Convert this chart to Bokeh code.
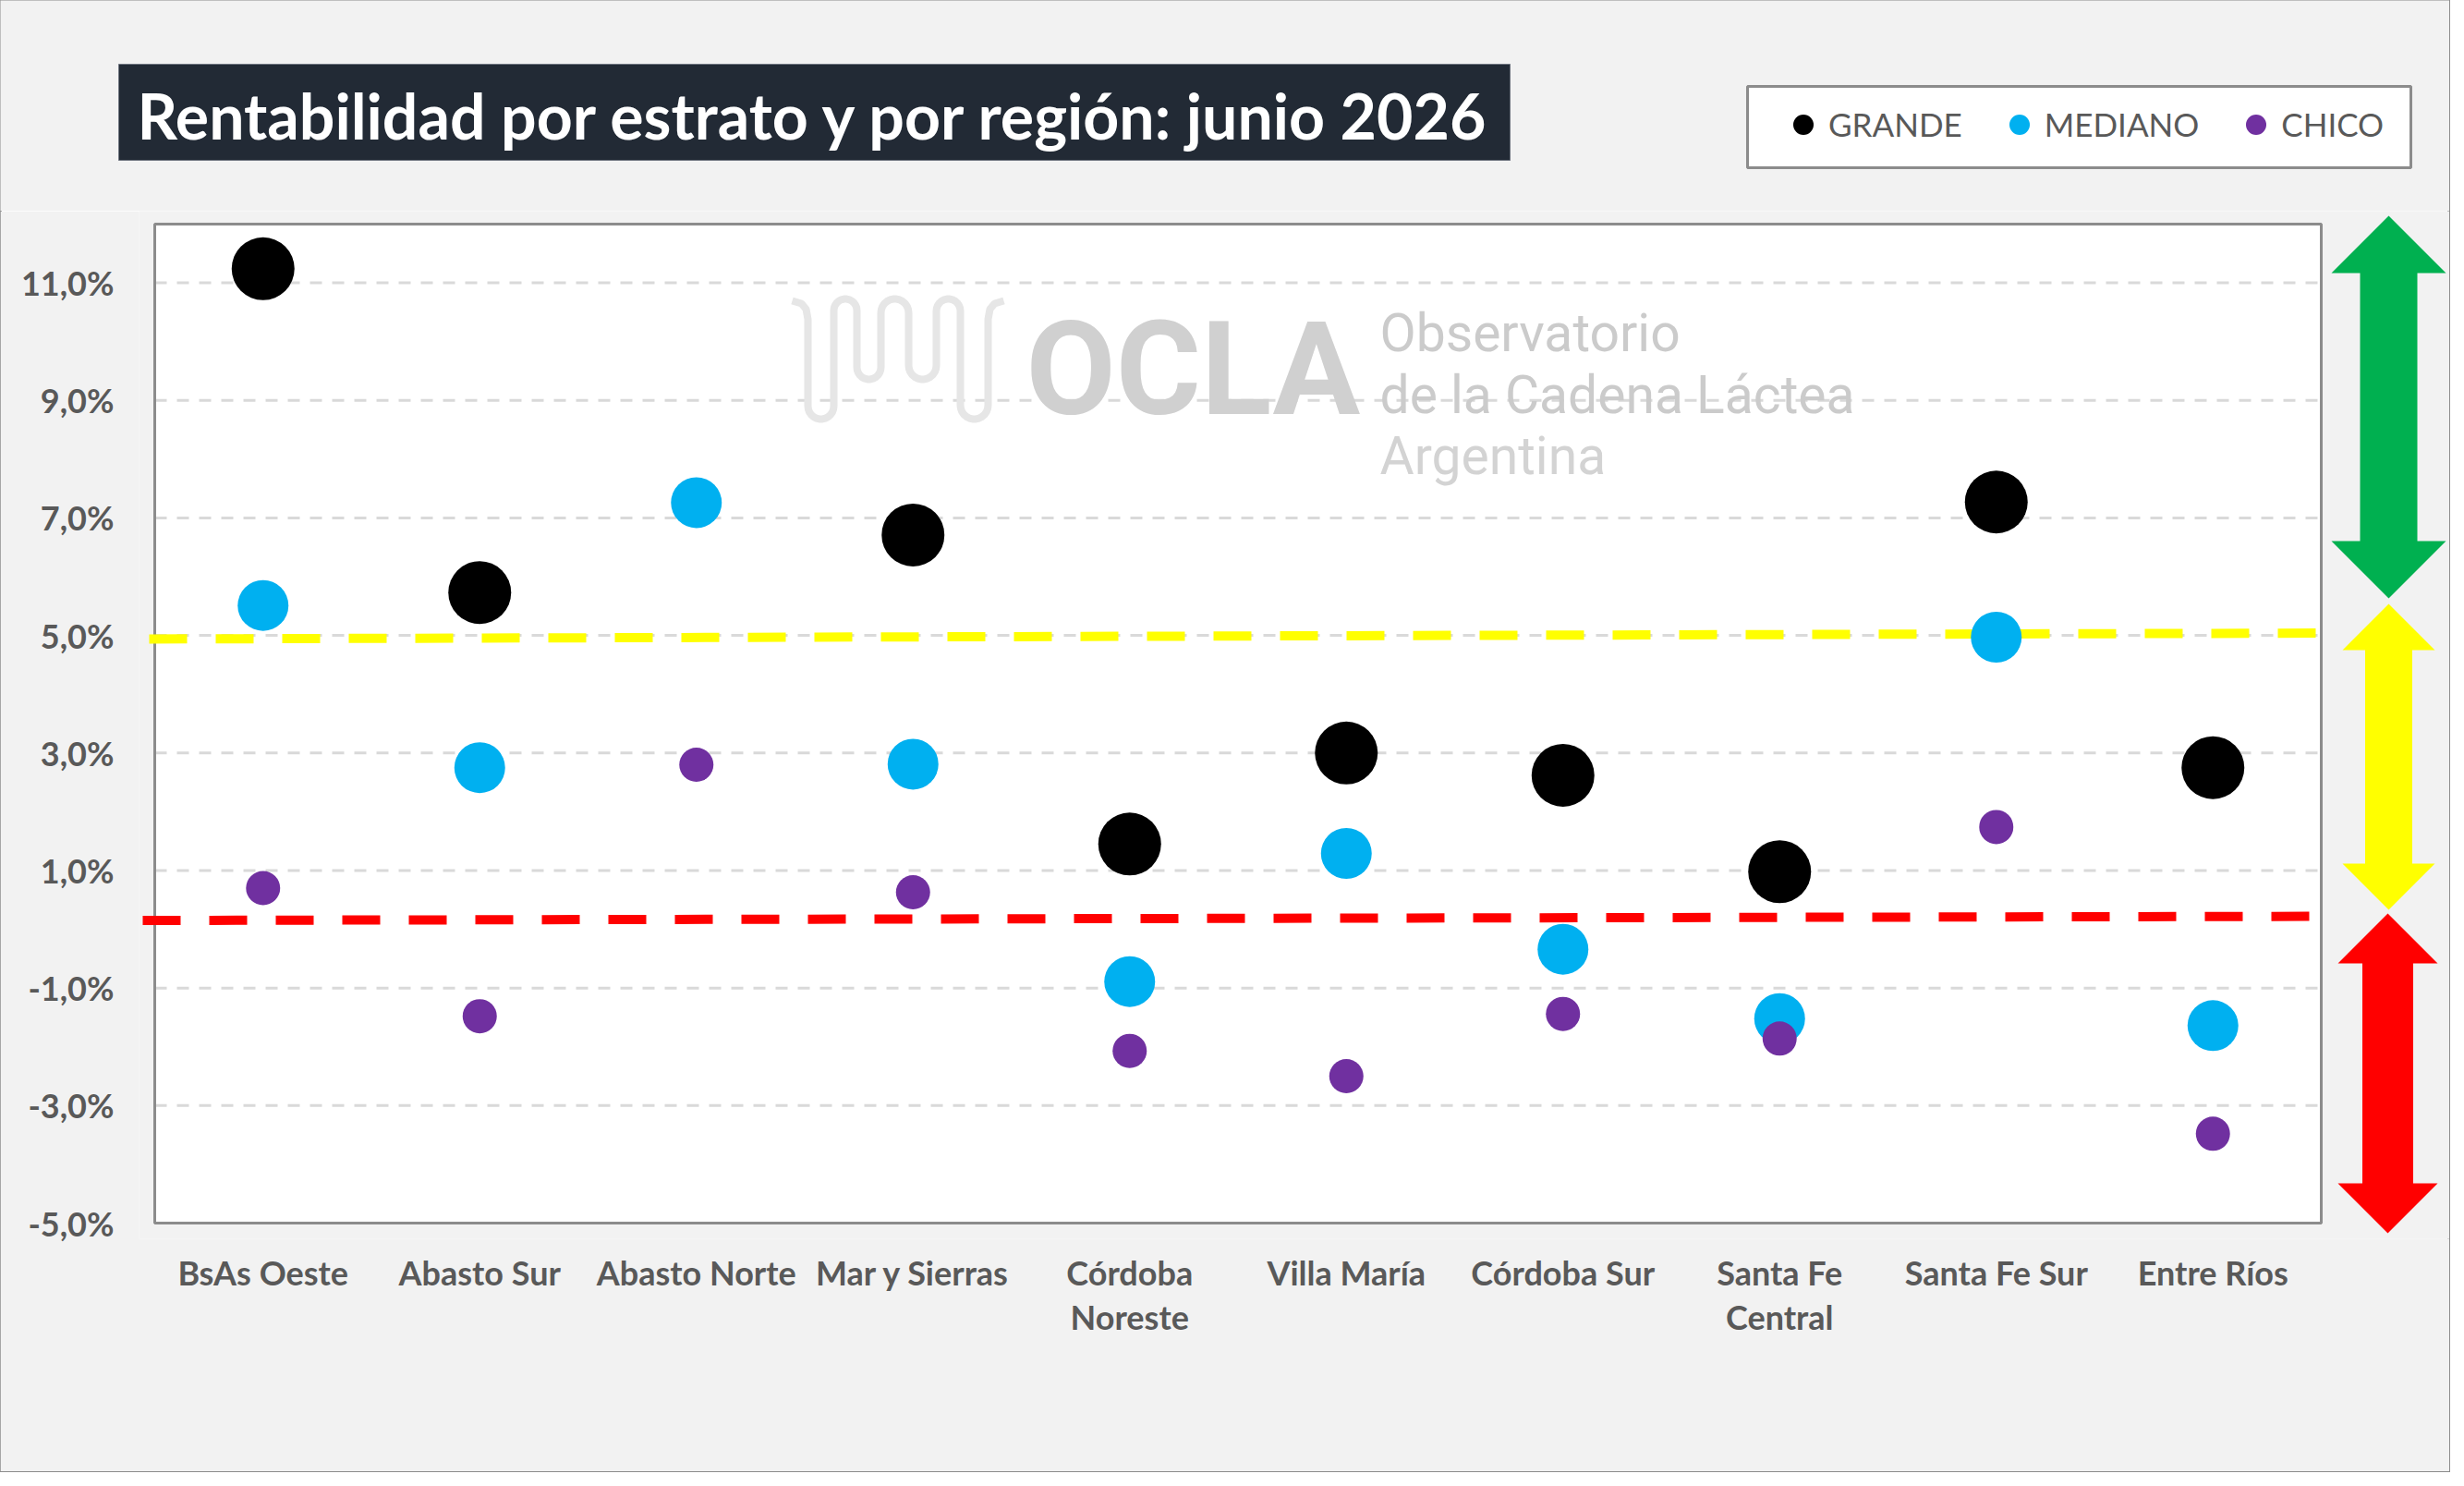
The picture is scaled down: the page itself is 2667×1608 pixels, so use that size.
import numpy as np
from bokeh.plotting import figure
from bokeh.layouts import column, row
from bokeh.models import (Range1d, FixedTicker, Label, Legend, LegendItem, LinearAxis,
                          ColumnDataSource)
from bokeh.embed import file_html
from bokeh.resources import INLINE
from bokeh.core.properties import value

# ---------------- data ----------------
regions = ["BsAs Oeste", "Abasto Sur", "Abasto Norte", "Mar y Sierras", "Córdoba Noreste",
           "Villa María", "Córdoba Sur", "Santa Fe Central", "Santa Fe Sur", "Entre Ríos"]
label_line1 = ["BsAs Oeste", "Abasto Sur", "Abasto Norte", "Mar y Sierras", "Córdoba",
               "Villa María", "Córdoba Sur", "Santa Fe", "Santa Fe Sur", "Entre Ríos"]
label_line2 = [" ", " ", " ", " ", "Noreste", " ", " ", "Central", " ", " "]
grande = [11.24, 5.73, None, 6.71, 1.45, 3.00, 2.62, 0.98, 7.27, 2.75]
mediano = [5.51, 2.75, 7.26, 2.81, -0.89, 1.29, -0.34, -1.52, 4.97, -1.64]
chico = [0.70, -1.48, 2.80, 0.63, -2.07, -2.50, -1.44, -1.86, 1.74, -3.48]
series_names = ["GRANDE", "MEDIANO", "CHICO"]
series_colors = ["#000000", "#00B0F0", "#7030A0"]
y_ticks = [-5, -3, -1, 1, 3, 5, 7, 9, 11]
y_tick_labels = ["-5,0%", "-3,0%", "-1,0%", "1,0%", "3,0%", "5,0%", "7,0%", "9,0%", "11,0%"]
umbral_alto = [4.94, 5.04]   # yellow dashed threshold (start, end)
umbral_bajo = [0.15, 0.22]   # red dashed threshold (start, end)
title_text = "Rentabilidad por estrato y por región: junio 2026"

# ---------------- geometry (canvas px) ----------------
W, H = 2651, 1592
TOP_H = 228                      # header strip height
MAIN_H = H - TOP_H
PFL, PFR, PFT, PFB = 167, 2512, 242, 1323   # white plot area in canvas px
Y0, Y1 = -5, 12
N = len(regions)
BG = "#F2F2F2"


def X(px):  # canvas px -> data x
    return (px - PFL) / (PFR - PFL) * N


def Y(py):  # canvas px -> data y
    return Y1 - (py - PFT) / (PFB - PFT) * (Y1 - Y0)


# ---------------- header strip: title + legend ----------------
top = figure(width=W, height=TOP_H, x_range=Range1d(0, W), y_range=Range1d(TOP_H, 0),
             x_axis_type=None, y_axis_type=None, output_backend="svg", toolbar_location=None,
             min_border=0, outline_line_color=None)
top.background_fill_color = BG
top.border_fill_color = BG
top.quad(left=[128], right=[1634], top=[69], bottom=[173], fill_color="#222A35",
         line_color="#6F7580", line_width=1)
top.text(x=[881], y=[124], text=[title_text], text_color="white", text_font=value("Lato"),
         text_font_style="bold", text_font_size="68px", text_align="center",
         text_baseline="middle")
top.quad(left=[1891], right=[2609], top=[93], bottom=[181], fill_color="white",
         line_color="#8C8C8C", line_width=3)
dummies = [top.scatter([-500], [-500], size=26, fill_color=c, line_color=None)
           for c in series_colors]
legend = Legend(items=[LegendItem(label=n, renderers=[r]) for n, r in zip(series_names, dummies)],
                orientation="horizontal", location=(1924, TOP_H - 161.5),
                glyph_width=55, glyph_height=55, label_standoff=0, spacing=34, padding=0,
                margin=0, background_fill_alpha=0, border_line_color=None,
                label_text_font="Lato", label_text_font_size="35px", label_text_color="#595959")
top.add_layout(legend)

# ---------------- main plot (frame extends right to hold the arrows) ----------------
FR_LEFT, FR_TOP, FR_BOT = 150, TOP_H, 1340
p = figure(width=W, height=MAIN_H, x_range=Range1d(X(FR_LEFT), X(W)),
           y_range=Range1d(Y(FR_BOT), Y(FR_TOP)), output_backend="svg", toolbar_location=None,
           min_border_left=FR_LEFT, min_border_right=0, min_border_top=0,
           min_border_bottom=H - FR_BOT)
p.border_fill_color = BG
p.background_fill_color = BG
p.outline_line_color = None
p.xgrid.grid_line_color = None
p.ygrid.grid_line_color = None

# white plot area
p.quad(left=[0], right=[N], bottom=[Y0], top=[Y1], fill_color="white", line_color=None,
       level="image")
# horizontal dashed grid lines at the y ticks
p.segment(x0=[0] * len(y_ticks), x1=[N] * len(y_ticks), y0=y_ticks, y1=y_ticks,
          line_color="#D9D9D9", line_width=3, line_dash="13 11", level="underlay")

# axes
x_ticks = [i + 0.5 for i in range(N)]
p.yaxis.ticker = FixedTicker(ticks=y_ticks)
p.yaxis.major_label_overrides = dict(zip(y_ticks, y_tick_labels))
p.xaxis.ticker = FixedTicker(ticks=x_ticks)
p.xaxis.major_label_overrides = dict(zip(x_ticks, label_line1))
x2 = LinearAxis(ticker=FixedTicker(ticks=x_ticks),
                major_label_overrides=dict(zip(x_ticks, label_line2)))
p.add_layout(x2, "below")
for ax in (p.xaxis[0], x2, p.yaxis[0]):
    ax.axis_line_color = None
    ax.major_tick_line_color = None
    ax.minor_tick_line_color = None
    ax.major_label_text_font = "Lato"
    ax.major_label_text_font_style = "bold"
    ax.major_label_text_font_size = "36px"
    ax.major_label_text_color = "#595959"
p.yaxis.major_label_standoff = 38 - (PFL - FR_LEFT)
p.xaxis[0].major_label_standoff = 8
x2.major_label_standoff = -5

# watermark (logo + text)
strands = [874, 902, 927, 953, 983, 1013, 1039, 1069]
bottoms = [453, 410, 410, 453]
top_y = 323
pts = [(857, 325), (867, 328), (872, 334), (874, 345)]
for i in range(0, 8, 2):
    a, b = strands[i], strands[i + 1]
    r = (b - a) / 2
    pts += [(a + r - r * np.cos(t), bottoms[i // 2] - r + r * np.sin(t))
            for t in np.linspace(0, np.pi, 14)]
    if i + 2 < 8:
        c = strands[i + 2]
        r2 = (c - b) / 2
        pts += [(b + r2 - r2 * np.cos(t), top_y + r2 - r2 * np.sin(t))
                for t in np.linspace(0, np.pi, 14)]
pts += [(1069, 345), (1071, 334), (1076, 328), (1086, 325)]
p.line([X(px) for px, _ in pts], [Y(py) for _, py in pts], line_color="#E6E6E6",
       line_width=8, level="underlay")
p.add_layout(Label(x=X(1110), y=Y(399), text="OCLA", text_font="Roboto",
                   text_font_style="bold", text_font_size="141px", text_color="#D0D0D0",
                   text_baseline="middle", level="underlay"))
for txt, mid, col in [("Observatorio", 359.5, "#CBCBCB"), ("de la Cadena Láctea", 426.5, "#CBCBCB"),
                      ("Argentina", 492.5, "#D3D3D3")]:
    p.add_layout(Label(x=X(1493), y=Y(mid), text=txt, text_font="Roboto",
                       text_font_size="57px", text_color=col, text_baseline="middle",
                       level="underlay"))

# plot-area border (above the grid lines)
p.quad(left=[0], right=[N], bottom=[Y0], top=[Y1], fill_alpha=0, line_color="#8C8C8C",
       line_width=3)

# threshold dashed lines
p.segment(x0=[X(161)], y0=[umbral_alto[0]], x1=[X(2512)], y1=[umbral_alto[1]],
          line_color="#FFFF00", line_width=10, line_dash="41 31")
p.segment(x0=[X(154)], y0=[umbral_bajo[0]], x1=[X(2499)], y1=[umbral_bajo[1]],
          line_color="#FF0000", line_width=10, line_dash="41 31")


def src_of(vals):
    xs = [i + 0.5 for i, v in enumerate(vals) if v is not None]
    ys = [v for v in vals if v is not None]
    return ColumnDataSource(dict(x=xs, y=ys))


for vals, col, size in [(grande, series_colors[0], 68), (mediano, series_colors[1], 55),
                        (chico, series_colors[2], 37)]:
    p.scatter("x", "y", source=src_of(vals), size=size, fill_color=col, line_color=None)


# traffic-light double arrows (decoration, canvas px)
def double_arrow(cx, top_, bot, hw, sw, hl, color):
    xs = [cx, cx + hw, cx + sw, cx + sw, cx + hw, cx, cx - hw, cx - sw, cx - sw, cx - hw]
    ys = [top_, top_ + hl, top_ + hl, bot - hl, bot - hl, bot, bot - hl, bot - hl, top_ + hl, top_ + hl]
    p.patch([X(v) for v in xs], [Y(v) for v in ys], fill_color=color, line_color=None)


double_arrow(2585, 233, 647, 62, 31, 62, "#00B050")
double_arrow(2585, 653, 984, 50, 25.5, 50, "#FFFF00")
double_arrow(2584, 988, 1334, 54, 27.5, 54, "#FF0000")

layout = column(top, row(p, spacing=0), spacing=0,
                styles={"outline": "3px solid #8C8C8C", "outline-offset": "-2px"})

open("out.html", "w").write(file_html(layout, INLINE))
